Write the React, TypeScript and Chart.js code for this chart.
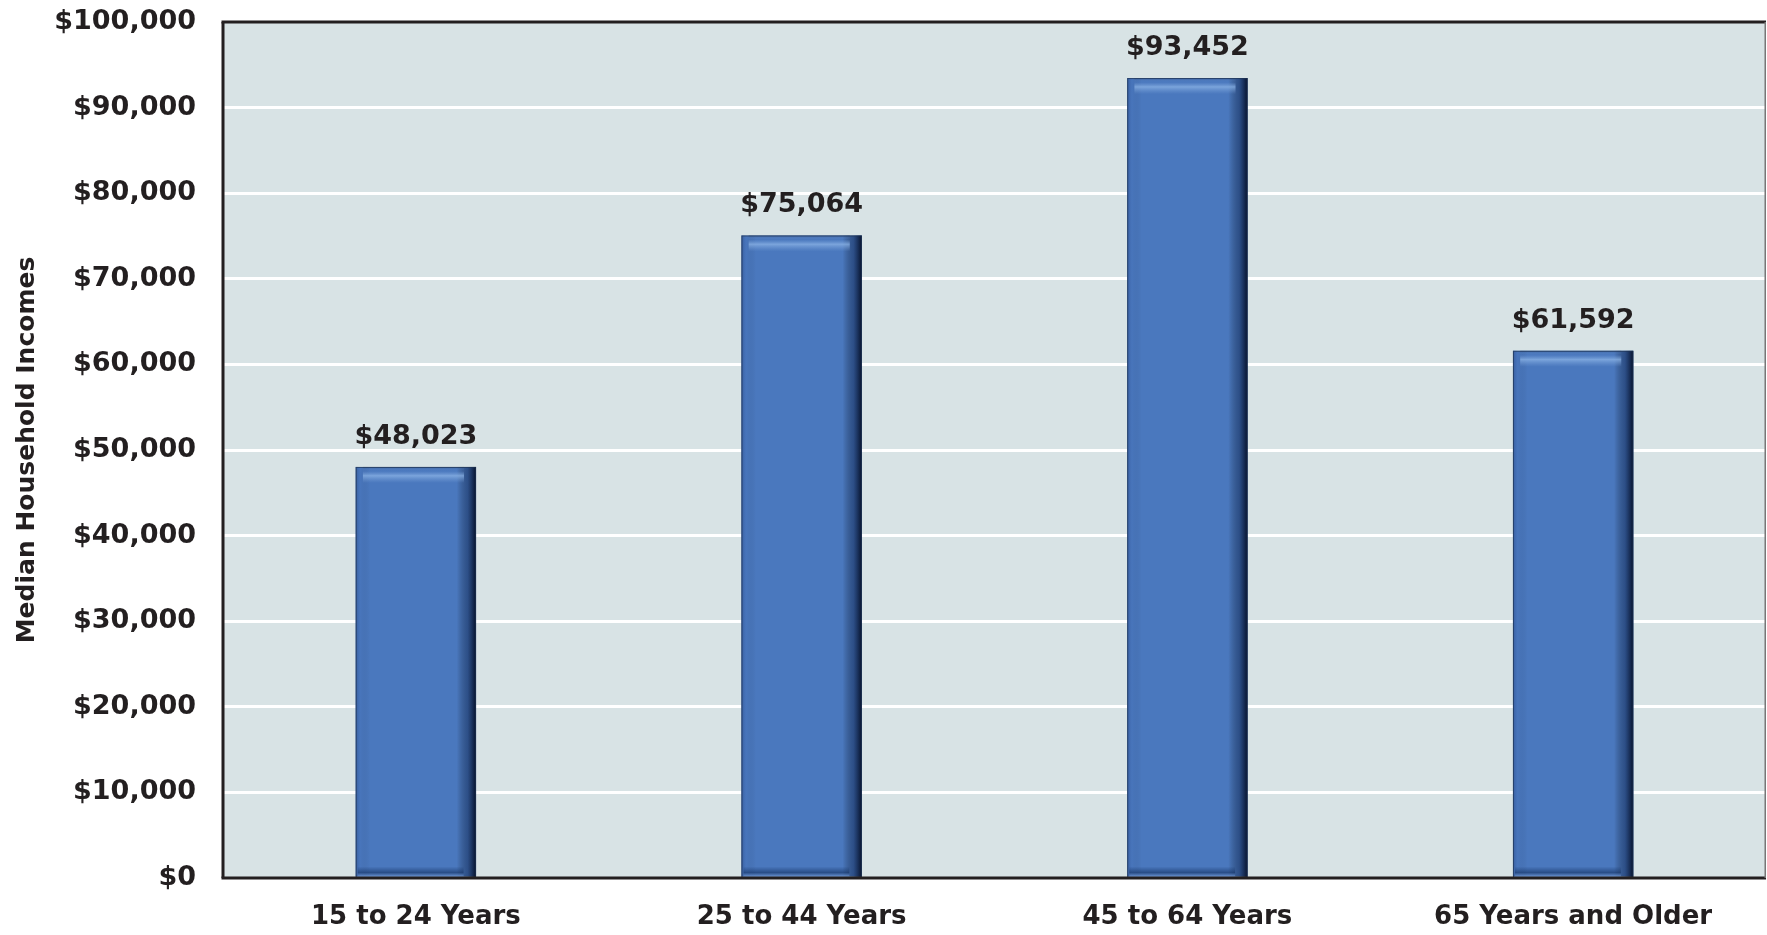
import React, { useEffect, useRef } from "react";
import { Chart, registerables } from "chart.js";

Chart.register(...registerables);

const categories = ["15 to 24 Years", "25 to 44 Years", "45 to 64 Years", "65 Years and Older"];
const incomes = [48023, 75064, 93452, 61592];
const yTicks = [0, 10000, 20000, 30000, 40000, 50000, 60000, 70000, 80000, 90000, 100000];
const yTitle = "Median Household Incomes";

const FONT = "'DejaVu Sans', Lato, sans-serif";
const INK = "#231f20";
const PLOT_BG = "#d8e3e5";

const money = (v: number) => "$" + v.toLocaleString("en-US");

// Plot background, outer frame, bar shading and value labels
const decorations = {
  id: "decorations",
  beforeDatasetsDraw(chart: any) {
    const { ctx, chartArea: a } = chart;
    ctx.save();
    ctx.globalCompositeOperation = "destination-over";
    ctx.fillStyle = PLOT_BG;
    ctx.fillRect(a.left, a.top, a.right - a.left, a.bottom - a.top);
    ctx.restore();
  },
  afterDatasetsDraw(chart: any) {
    const { ctx, chartArea: a } = chart;
    const meta = chart.getDatasetMeta(0);
    meta.data.forEach((bar: any, i: number) => {
      const left = bar.x - bar.width / 2;
      const right = bar.x + bar.width / 2;
      const top = bar.y;
      const bottom = bar.base + 2;
      const w = right - left;
      ctx.save();
      // horizontal shading: darker left rim, deep navy right edge
      const g = ctx.createLinearGradient(left, 0, right, 0);
      g.addColorStop(0, "rgba(40,70,130,0.55)");
      g.addColorStop(0.04, "rgba(60,100,170,0.15)");
      g.addColorStop(0.12, "rgba(0,0,0,0)");
      g.addColorStop(0.84, "rgba(0,0,0,0)");
      g.addColorStop(0.93, "rgba(10,30,70,0.45)");
      g.addColorStop(1, "rgba(3,12,35,0.95)");
      ctx.fillStyle = g;
      ctx.fillRect(left, top, w, bottom - top);
      // top bevel: dark rim, then soft highlight line
      const hg = ctx.createLinearGradient(0, top, 0, top + 16);
      hg.addColorStop(0, "rgba(40,70,120,0.45)");
      hg.addColorStop(0.25, "rgba(120,160,215,0.0)");
      hg.addColorStop(0.55, "rgba(140,180,230,0.75)");
      hg.addColorStop(1, "rgba(120,160,215,0)");
      ctx.fillStyle = hg;
      ctx.fillRect(left + w * 0.06, top, w * 0.84, 16);
      // bottom bevel
      const bg = ctx.createLinearGradient(0, bottom - 12, 0, bottom);
      bg.addColorStop(0, "rgba(20,50,100,0)");
      bg.addColorStop(0.5, "rgba(20,50,100,0.6)");
      bg.addColorStop(0.8, "rgba(110,150,210,0.7)");
      bg.addColorStop(1, "rgba(70,110,180,0.6)");
      ctx.fillStyle = bg;
      ctx.fillRect(left + 2, bottom - 12, w * 0.88, 12);
      // outline
      ctx.strokeStyle = "rgba(30,50,80,0.7)";
      ctx.lineWidth = 1;
      ctx.strokeRect(left + 0.5, top + 0.5, w - 1, bottom - top - 1);
      // value label
      ctx.fillStyle = INK;
      ctx.font = `bold 27px ${FONT}`;
      ctx.textAlign = "center";
      ctx.textBaseline = "middle";
      ctx.fillText(money(incomes[i]), bar.x, top - 30);
      ctx.restore();
    });
    // frame lines on top and right, re-stroke left and bottom
    ctx.save();
    ctx.strokeStyle = INK;
    ctx.lineWidth = 3;
    ctx.beginPath();
    ctx.moveTo(a.left - 1.5, a.top);
    ctx.lineTo(a.right, a.top);
    ctx.stroke();
    ctx.beginPath();
    ctx.moveTo(a.left, a.top);
    ctx.lineTo(a.left, a.bottom);
    ctx.stroke();
    ctx.beginPath();
    ctx.moveTo(a.left - 1.5, a.bottom);
    ctx.lineTo(a.right, a.bottom);
    ctx.stroke();
    ctx.strokeStyle = "#777";
    ctx.lineWidth = 1.5;
    ctx.beginPath();
    ctx.moveTo(a.right - 0.75, a.top);
    ctx.lineTo(a.right - 0.75, a.bottom);
    ctx.stroke();
    ctx.restore();
  },
};

export default function App() {
  const ref = useRef<HTMLCanvasElement | null>(null);

  useEffect(() => {
    if (!ref.current) return;
    const chart = new Chart(ref.current, {
      type: "bar",
      data: {
        labels: categories,
        datasets: [
          {
            data: incomes,
            backgroundColor: "#4a78be",
            borderWidth: 0,
            barPercentage: 0.312,
            categoryPercentage: 1,
          },
        ],
      },
      options: {
        animation: false,
        responsive: false,
        maintainAspectRatio: false,
        layout: { padding: { top: 22, right: 1, left: 0, bottom: 0 } },
        plugins: {
          legend: { display: false },
          tooltip: { enabled: false },
        },
        scales: {
          x: {
            grid: { display: false },
            border: { display: false },
            ticks: {
              color: INK,
              font: { family: FONT, size: 26, weight: "bold" },
              padding: 16,
              maxRotation: 0,
            },
            afterFit: (s: any) => {
              s.height = 57;
            },
          },
          y: {
            min: 0,
            max: 100000,
            afterBuildTicks: (s: any) => {
              s.ticks = yTicks.map((v) => ({ value: v }));
            },
            grid: {
              color: (c: any) =>
                c.tick && (c.tick.value === 0 || c.tick.value === 100000) ? "rgba(0,0,0,0)" : "#ffffff",
              lineWidth: 3,
              drawTicks: true,
              tickLength: 27,
              tickColor: "rgba(0,0,0,0)",
            },
            border: { display: false },
            ticks: {
              color: INK,
              font: { family: FONT, size: 27, weight: "bold" },
              padding: 0,
              callback: (v: any) => money(Number(v)),
            },
            title: {
              display: true,
              text: yTitle,
              color: INK,
              font: { family: FONT, size: 25, weight: "bold" },
              padding: { top: 12, bottom: 0 },
            },
            afterFit: (s: any) => {
              s.width = 223;
            },
          },
        },
      },
      plugins: [decorations],
    });
    return () => chart.destroy();
  }, []);

  return (
    <div style={{ position: "absolute", left: 0, top: 0, width: 1767, height: 935, background: "#fff" }}>
      <canvas ref={ref} width={1767} height={935} style={{ display: "block" }} />
    </div>
  );
}
